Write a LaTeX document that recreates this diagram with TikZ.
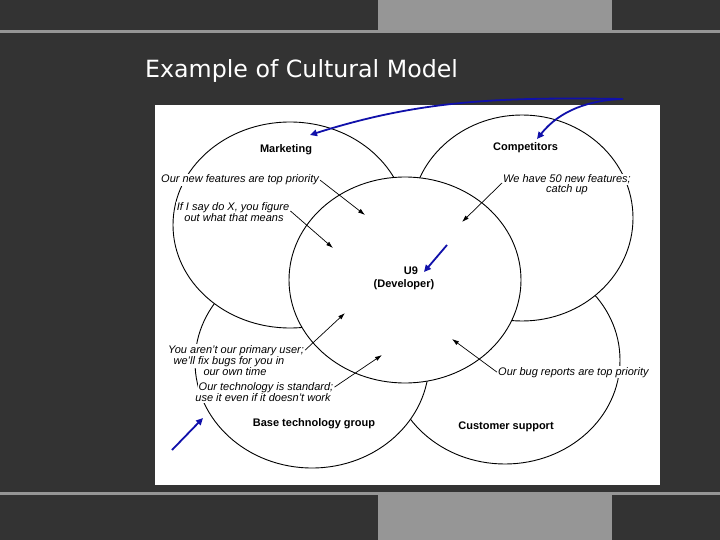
\documentclass[tikz,border=0pt]{standalone}
\usepackage{fontspec}
\setmainfont{Liberation Sans}
\newfontfamily\titlefont{DejaVu Sans}
\usetikzlibrary{arrows.meta,shapes.geometric}
\definecolor{bgdark}{RGB}{51,51,51}
\definecolor{bargray}{RGB}{150,150,150}
\definecolor{arrowblue}{RGB}{16,16,170}
\begin{document}
\begin{tikzpicture}[x=1pt,y=-1pt,
  circ/.style={ellipse, draw=black, fill=white, line width=0.9pt, inner sep=0pt, outer sep=0pt},
  saying/.style={font=\itshape\fontsize{11}{12}\selectfont, fill=white, inner sep=1pt},
  lbl/.style={font=\bfseries\fontsize{11}{12}\selectfont, inner sep=1pt},
  thinarrow/.style={draw=black, line width=0.7pt, -{Latex[length=7pt,width=4.5pt]}},
  bluearrow/.style={draw=arrowblue, line width=1.8pt, -{Triangle[length=7pt,width=6.5pt]}}]
\useasboundingbox (0,0) rectangle (720,540);
% slide background
\fill[bgdark] (0,0) rectangle (720,540);
\fill[bargray] (378,0) rectangle (612,30);
\fill[bargray] (0,30) rectangle (720,33);
\fill[bargray] (0,492) rectangle (720,495);
\fill[bargray] (378,495) rectangle (612,540);
\fill[white] (155,105) rectangle (660,485);
% title
\node[anchor=base west, text=white, inner sep=0pt,
      font=\titlefont\fontsize{23.7}{28}\selectfont] (title) at (145,78) {Example of Cultural Model};
% ellipses
\node[circ, minimum width=230pt, minimum height=208pt] (cs) at (505,360) {};
\node[circ, minimum width=222pt, minimum height=206pt] (comp) at (522,218) {};
\node[circ, minimum width=234pt, minimum height=212pt] (base) at (312,362) {};
\node[circ, minimum width=234pt, minimum height=206pt] (mkt) at (290,225) {};
\node[circ, minimum width=232pt, minimum height=206pt] (dev) at (405,280) {};
% quotes
\node[saying, anchor=base west] (q1) at (160,183) {Our new features are top priority};
\node[saying, anchor=base] (q2a) at (233,211) {If I say do X, you figure};
\node[saying, anchor=base] (q2b) at (234,221.5) {out what that means};
\node[saying, anchor=base] (q3a) at (567,183) {We have 50 new features;};
\node[saying, anchor=base] (q3b) at (567,193) {catch up};
\node[saying, anchor=base] (q4a) at (236,353) {You aren’t our primary user;};
\node[saying, anchor=base] (q4b) at (229,364.5) {we’ll fix bugs for you in};
\node[saying, anchor=base] (q4c) at (235,375.5) {our own time};
\node[saying, anchor=base] (q5a) at (266,390) {Our technology is standard;};
\node[saying, anchor=base] (q5b) at (263,401.5) {use it even if it doesn’t work};
\node[saying, anchor=base west] (q6) at (497,375) {Our bug reports are top priority};
% labels
\node[lbl, anchor=base] (mk) at (286,153) {Marketing};
\node[lbl, anchor=base] (co) at (525.5,150.5) {Competitors};
\node[lbl, anchor=base] (u9) at (411,274) {U9};
\node[lbl, anchor=base] (dv) at (404,287) {(Developer)};
\node[lbl, anchor=base] (bt) at (314,426.5) {Base technology group};
\node[lbl, anchor=base] (cu) at (506,429) {Customer support};
% black arrows
\coordinate (h1) at (365,215);
\coordinate (h2) at (333,248);
\coordinate (h3) at (462,222);
\coordinate (h4) at (345,313);
\coordinate (h5) at (382,355);
\coordinate (h6) at (452,339);
\draw[thinarrow] (q1.east) -- (h1);
\draw[thinarrow] (q2a.base east) -- (h2);
\draw[thinarrow] (q3a.base west) -- (h3);
\draw[thinarrow] (q4a.east) -- (h4);
\draw[thinarrow] (q5a.east) -- (h5);
\draw[thinarrow] (q6.west) -- (h6);
% blue annotation arrows
\coordinate (bs) at (623,99);
\coordinate (bt1) at (310,135);
\coordinate (bt2) at (537,139);
\coordinate (b3s) at (447,245);
\coordinate (b3t) at (424,272);
\coordinate (b4s) at (172,450);
\coordinate (b4t) at (203,418);
\draw[bluearrow] (bs) .. controls (500,97) and (420,100) .. (bt1);
\draw[bluearrow] (bs) .. controls (590,100) and (560,110) .. (bt2);
\draw[bluearrow] (b3s) -- (b3t);
\draw[bluearrow] (b4s) -- (b4t);
\end{tikzpicture}
\end{document}
